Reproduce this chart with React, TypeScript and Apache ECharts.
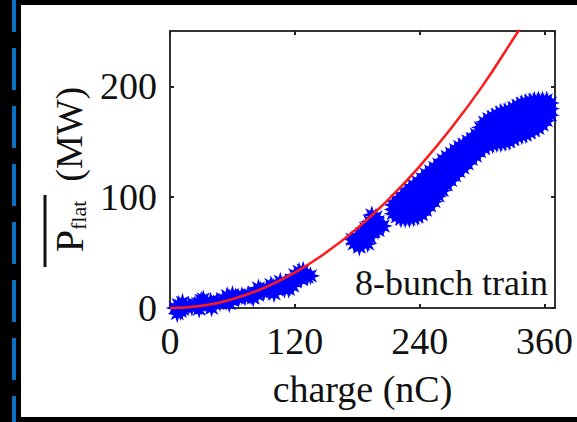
import { useEffect, useRef } from "react";
import * as echarts from "echarts";

const xTickStep = 120;
const yTickStep = 100;
const xMax = 370;
const yMax = 250;

// red fit curve (charge nC, power MW)
const fitCharge = [0, 30, 60, 90, 120, 150, 180, 210, 240, 270, 300, 330, 345];
const fitPower = [0, 2, 8, 18, 32, 50, 72, 98, 128, 162, 200, 243, 265];

// measured points, low-charge group
const lowCluster: number[][] = [
  [5, 0], [9, 2], [12, -1], [15, 1], [10, -3], [8, 3], [18, 2], [21, 1], [24, 3], [27, 4],
  [30, 2], [33, 5], [36, 3], [39, 6], [42, 4], [45, 6], [48, 5], [51, 8], [54, 6], [57, 9],
  [60, 7], [63, 10], [66, 9], [69, 11], [72, 10], [75, 12], [78, 11], [81, 14], [84, 12],
  [87, 16], [90, 14], [93, 17], [96, 15], [99, 19], [102, 17], [105, 20], [108, 19],
  [111, 23], [114, 21], [117, 25], [120, 24], [123, 28], [126, 26], [129, 30], [132, 28],
  [135, 29], [120, 30], [110, 17], [85, 18], [60, 12], [30, 7], [40, 0],
  [12, 5], [7, -5], [28, -1], [32, 8], [57, 4], [55, 11], [80, 9], [100, 13], [97, 21],
  [118, 20], [124, 33], [128, 34], [114, 17], [106, 24],
];

// measured points, middle group
const midCluster: number[][] = [
  [177, 58], [182, 55], [186, 58], [179, 63], [184, 62], [188, 62], [192, 64], [184, 67],
  [188, 67], [192, 69], [196, 69], [200, 70], [188, 72], [192, 74], [196, 74], [200, 74],
  [205, 74], [192, 78], [196, 79], [200, 78], [194, 84], [198, 82], [175, 62], [190, 58],
];

// measured points, high-charge group
const highCluster: number[][] = [
  [214, 85], [214, 89], [214, 93],
  [218, 82], [218, 87], [218, 92], [218, 97],
  [222, 80], [222, 85], [222, 90], [222, 95], [222, 100],
  [226, 80], [226, 86], [226, 92], [226, 98], [226, 104],
  [230, 80], [230, 87], [230, 94], [230, 101], [230, 108],
  [234, 81], [234, 88], [234, 96], [234, 104], [234, 111],
  [238, 82], [238, 90], [238, 98], [238, 106], [238, 114],
  [242, 84], [242, 92], [242, 100], [242, 109], [242, 117],
  [246, 88], [246, 96], [246, 104], [246, 113], [246, 121],
  [250, 92], [250, 100], [250, 108], [250, 116], [250, 124],
  [254, 96], [254, 104], [254, 112], [254, 120], [254, 127],
  [258, 101], [258, 108], [258, 116], [258, 123], [258, 130],
  [262, 106], [262, 113], [262, 120], [262, 127], [262, 134],
  [266, 111], [266, 117], [266, 124], [266, 131], [266, 137],
  [270, 115], [270, 121], [270, 128], [270, 134], [270, 140],
  [274, 119], [274, 125], [274, 132], [274, 138], [274, 143],
  [278, 123], [278, 129], [278, 135], [278, 141], [278, 146],
  [282, 126], [282, 132], [282, 138], [282, 143], [282, 148],
  [286, 130], [286, 135], [286, 141], [286, 146], [286, 151],
  [290, 134], [290, 139], [290, 144], [290, 149], [290, 153],
  [294, 137], [294, 142], [294, 148], [294, 153], [294, 157],
  [298, 141], [298, 146], [298, 152], [298, 158], [298, 163],
  [302, 144], [302, 150], [302, 156], [302, 162], [302, 168],
  [306, 146], [306, 152], [306, 158], [306, 165], [306, 171],
  [310, 147], [310, 154], [310, 160], [310, 167], [310, 173],
  [314, 148], [314, 155], [314, 162], [314, 169], [314, 175],
  [318, 148], [318, 156], [318, 163], [318, 170], [318, 177],
  [322, 149], [322, 157], [322, 164], [322, 171], [322, 178],
  [326, 150], [326, 158], [326, 165], [326, 172], [326, 179],
  [330, 152], [330, 160], [330, 167], [330, 174], [330, 181],
  [334, 154], [334, 162], [334, 169], [334, 176], [334, 183],
  [338, 155], [338, 163], [338, 171], [338, 178], [338, 185],
  [342, 156], [342, 164], [342, 172], [342, 179], [342, 186],
  [346, 158], [346, 166], [346, 173], [346, 180], [346, 187],
  [350, 160], [350, 168], [350, 175], [350, 182], [350, 188],
  [354, 162], [354, 169], [354, 176], [354, 182], [354, 188],
  [358, 165], [358, 171], [358, 178], [358, 183], [358, 188],
  [362, 169], [362, 174], [362, 180], [362, 184], [362, 188],
  [366, 174], [366, 180], [366, 185],
];

const annotation = "8-bunch train";
const xName = "charge (nC)";

const FONT = "'Liberation Serif', 'Times New Roman', serif";
const STAR =
  "path://M5,0 L2.1,0.87 L3.54,3.54 L0.87,2.1 L0,5 L-0.87,2.1 L-3.54,3.54 L-2.1,0.87 L-5,0 L-2.1,-0.87 L-3.54,-3.54 L-0.87,-2.1 L0,-5 L0.87,-2.1 L3.54,-3.54 L2.1,-0.87 Z";

export default function App() {
  const ref = useRef<HTMLDivElement>(null);
  useEffect(() => {
    document.body.style.margin = "0";
    const chart = echarts.init(ref.current!, null, { renderer: "svg" });
    const frame = { show: true, onZero: false, lineStyle: { color: "#333", width: 2 } };
    const tick = { show: true, inside: true, length: 4, lineStyle: { color: "#222", width: 2 } };
    const blue = { color: "#0000ff", opacity: 1, borderColor: "#0000ff", borderWidth: 1.2 };
    chart.setOption({
      animation: false,
      backgroundColor: "transparent",
      grid: { left: 170, right: 22, top: 31, bottom: 114 },
      xAxis: [
        {
          type: "value", min: 0, max: xMax, interval: xTickStep, position: "bottom",
          axisLine: frame, axisTick: tick, splitLine: { show: false },
          axisLabel: { fontFamily: FONT, fontSize: 38, color: "#111", margin: 14, showMaxLabel: false },
          name: xName, nameLocation: "middle", nameGap: 62,
          nameTextStyle: { fontFamily: FONT, fontSize: 38, color: "#111" },
        },
        {
          type: "value", min: 0, max: xMax, interval: xTickStep, position: "top",
          axisLine: frame, axisTick: tick, splitLine: { show: false }, axisLabel: { show: false },
        },
      ],
      yAxis: [
        {
          type: "value", min: 0, max: yMax, interval: yTickStep, position: "left",
          axisLine: frame, axisTick: tick, splitLine: { show: false },
          axisLabel: { fontFamily: FONT, fontSize: 38, color: "#111", margin: 13, showMaxLabel: false },
          name: "{p|P}{s|flat}{m|  (MW)}", nameLocation: "middle", nameRotate: 90, nameGap: 80,
          nameTextStyle: {
            fontFamily: FONT, color: "#111",
            rich: {
              p: { fontFamily: FONT, fontSize: 40, color: "#111" },
              s: { fontFamily: FONT, fontSize: 22, color: "#111", verticalAlign: "bottom", padding: [14, 0, 0, 0] },
              m: { fontFamily: FONT, fontSize: 38, color: "#111" },
            },
          },
        },
        {
          type: "value", min: 0, max: yMax, interval: yTickStep, position: "right",
          axisLine: frame, axisTick: tick, splitLine: { show: false }, axisLabel: { show: false },
        },
      ],
      series: [
        { type: "scatter", data: lowCluster, symbol: STAR, symbolSize: 15, itemStyle: blue, clip: false, z: 2 },
        { type: "scatter", data: midCluster, symbol: STAR, symbolSize: 15, itemStyle: blue, clip: false, z: 2 },
        { type: "scatter", data: highCluster, symbol: STAR, symbolSize: 14, itemStyle: blue, clip: false, z: 2 },
        {
          type: "line", data: fitCharge.map((c, i) => [c, fitPower[i]]), smooth: true, showSymbol: false,
          clip: true, lineStyle: { color: "#ff1a1a", width: 2.5 }, z: 5,
        },
      ],
      graphic: [
        { type: "line", shape: { x1: 45, y1: 195, x2: 45, y2: 267 }, style: { stroke: "#111", lineWidth: 3 } },
        {
          type: "text", x: 548, y: 283,
          style: { text: annotation, font: `36px ${FONT}`, fill: "#111", align: "right", verticalAlign: "middle" },
          z: 10,
        },
      ],
    });
    return () => chart.dispose();
  }, []);
  return (
    <div style={{ position: "relative", width: 577, height: 422, background: "#000", overflow: "hidden" }}>
      <div
        style={{
          position: "absolute", left: 12, top: -10, width: 4, height: 440,
          background: "repeating-linear-gradient(to bottom, #0a70c0 0px, #0a70c0 42px, transparent 42px, transparent 58px)",
        }}
      />
      <div style={{ position: "absolute", left: 21, top: 5, width: 556, height: 412, background: "#fff" }} />
      <div ref={ref} style={{ position: "absolute", left: 0, top: 0, width: 577, height: 422 }} />
    </div>
  );
}
